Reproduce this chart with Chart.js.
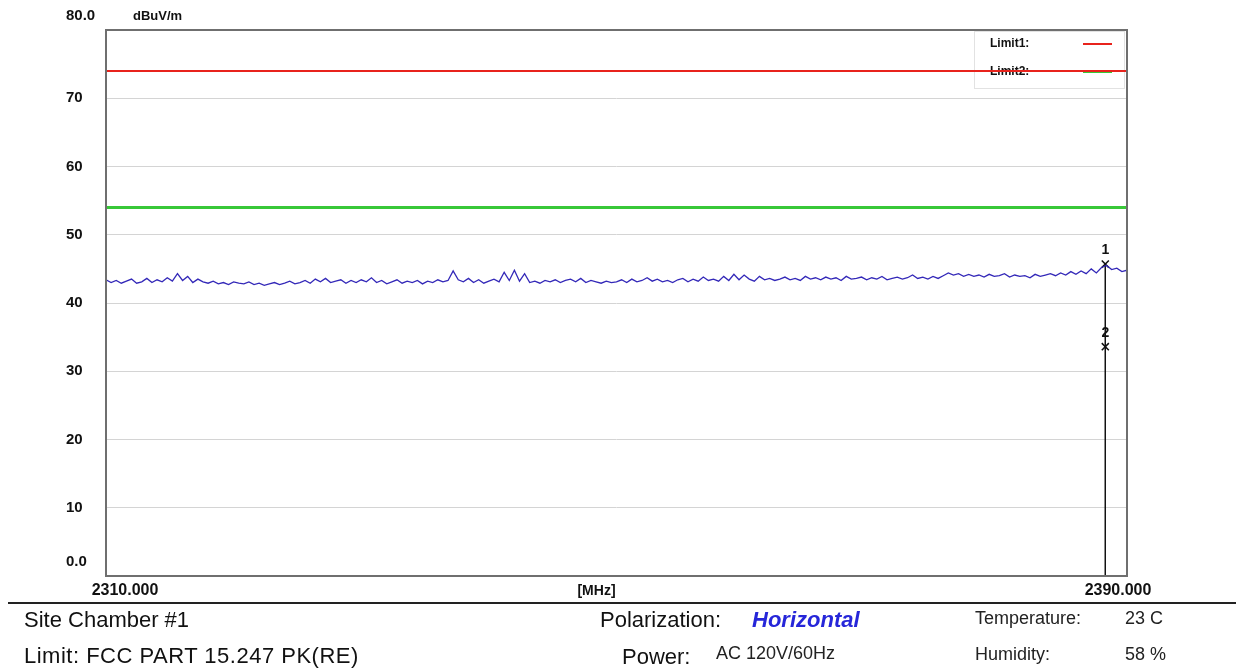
<!DOCTYPE html>
<html>
<head>
<meta charset="utf-8">
<script src="https://cdn.jsdelivr.net/npm/chart.js@4"></script>
<style>
  html, body { margin: 0; padding: 0; background: #fff; }
  #wrap { position: relative; width: 1236px; height: 670px; overflow: hidden; }
  #chart { position: absolute; left: 0; top: 0; }
  .t { position: absolute; font-family: "Liberation Sans", Arial, sans-serif; color: #111; white-space: nowrap; line-height: 1; }
  .big { font-size: 22px; }
  .small { font-size: 18px; color: #222; }
  #rule { position: absolute; left: 8px; right: 0; top: 602px; height: 2px; background: #222; }
</style>
</head>
<body>
<div id="wrap">
  <canvas id="chart" width="1236" height="670"></canvas>
  <div id="rule"></div>
  <div class="t big" style="left:24px; top:609px;">Site Chamber #1</div>
  <div class="t big" style="left:24px; top:645px; letter-spacing:0.5px;">Limit: FCC PART 15.247 PK(RE)</div>
  <div class="t big" style="left:600px; top:609px;">Polarization:</div>
  <div class="t big" style="left:752px; top:609px; color:#2626d9; font-weight:bold; font-style:italic;">Horizontal</div>
  <div class="t big" style="left:622px; top:646px;">Power:</div>
  <div class="t small" style="left:716px; top:644px;">AC 120V/60Hz</div>
  <div class="t small" style="left:975px; top:609px;">Temperature:</div>
  <div class="t small" style="left:1125px; top:609px;">23 C</div>
  <div class="t small" style="left:975px; top:645px;">Humidity:</div>
  <div class="t small" style="left:1125px; top:645px;">58 %</div>
</div>
<script>
// Sweep: 2310 - 2390 MHz, one reading every 0.4 MHz (201 points).
const FREQ_START = 2310;
const FREQ_STOP = 2390;
const FREQ_STEP = 0.4;

// Peak trace, dBuV/m.
const TRACE = [
    43.4, 43.0, 43.3, 42.9, 43.2, 43.5, 42.9, 43.1, 43.6, 43.0,
    43.4, 43.1, 43.7, 43.2, 44.3, 43.3, 43.9, 43.0, 43.5, 43.1,
    42.9, 43.2, 42.8, 43.0, 42.7, 43.1, 42.9, 42.8, 43.1, 42.7,
    42.9, 42.6, 42.8, 43.0, 42.7, 42.9, 43.2, 42.8, 43.0, 43.3,
    42.9, 43.5, 43.1, 43.6, 43.0, 43.2, 43.4, 42.9, 43.3, 43.0,
    43.4, 43.1, 43.7, 43.0, 43.3, 42.8, 43.1, 43.4, 42.9, 43.2,
    43.0, 43.3, 42.8, 43.2, 43.0, 43.4, 43.1, 43.3, 44.7, 43.4,
    43.1, 43.6, 43.0, 43.4, 42.9, 43.2, 43.5, 43.1, 44.5, 43.3,
    44.8, 43.2, 44.3, 43.0, 43.2, 42.9, 43.3, 43.1, 43.4, 43.0,
    43.3, 43.5, 43.1, 43.6, 43.0, 43.3, 43.1, 42.9, 43.2, 43.0,
    43.1, 43.4, 43.0, 43.5, 43.1, 43.3, 43.7, 43.2, 43.5, 43.1,
    43.3, 43.0, 43.4, 43.6, 43.1, 43.5, 43.2, 43.8, 43.3, 43.5,
    43.2, 43.9, 43.3, 44.2, 43.4, 44.1, 43.5, 43.2, 43.9, 43.4,
    43.6, 43.3, 43.5, 43.8, 43.4, 43.6, 43.3, 43.9, 43.5, 43.7,
    43.4, 43.8, 43.5, 43.7, 43.3, 43.9, 43.5, 43.6, 43.8, 43.4,
    43.7, 43.5, 43.9, 43.4, 43.6, 43.8, 43.5, 43.7, 44.1, 43.6,
    43.8, 43.5, 43.9, 43.6, 44.0, 44.4, 44.1, 44.3, 43.9, 44.2,
    43.9, 44.1, 43.8, 44.2, 43.9, 44.0, 44.3, 43.8, 44.1, 43.9,
    44.0, 43.7, 44.2, 43.9, 44.1, 44.3, 44.0, 44.4, 44.1, 44.6,
    44.2, 44.7, 44.3, 45.0, 44.4, 45.2, 45.5, 44.9, 45.1, 44.6,
    44.8,
];

const LIMIT1 = 74;   // red
const LIMIT2 = 54;   // green

// Marker readings (freq MHz, level dBuV/m)
const MARKER_LABELS = ["1", "2"];
const MARKER_FREQ = [2388.3, 2388.3];
const MARKER_LEVEL = [45.7, 33.6];

const Y_MIN = 0;
const Y_MAX = 80;
const Y_STEP = 10;

const FONT = '"Liberation Sans", Arial, sans-serif';

const tracePoints = TRACE.map((v, i) => ({ x: FREQ_START + i * FREQ_STEP, y: v }));
const markerPoints = MARKER_FREQ.map((f, i) => ({ x: f, y: MARKER_LEVEL[i] }));

// Frame, legend box, axis captions and marker numbers.
const decor = {
    id: "decor",
    beforeDatasetsDraw(chart) {
        const { ctx, chartArea: a } = chart;
        // legend box (datasets are drawn on top of it, like the original)
        ctx.save();
        ctx.fillStyle = "#fff";
        ctx.fillRect(a.right - 152, a.top + 2, 150, 56);
        ctx.strokeStyle = "#e2e2e2";
        ctx.lineWidth = 1;
        ctx.strokeRect(a.right - 152.5, a.top + 1.5, 150, 57);
        ctx.font = "bold 12px " + FONT;
        ctx.fillStyle = "#111";
        ctx.textBaseline = "middle";
        ctx.fillText("Limit1:", a.right - 137, a.top + 14);
        ctx.fillText("Limit2:", a.right - 137, a.top + 42);
        ctx.lineWidth = 2;
        ctx.strokeStyle = "#e8231c";
        ctx.beginPath();
        ctx.moveTo(a.right - 44, a.top + 14);
        ctx.lineTo(a.right - 15, a.top + 14);
        ctx.stroke();
        ctx.strokeStyle = "#38c838";
        ctx.beginPath();
        ctx.moveTo(a.right - 44, a.top + 42);
        ctx.lineTo(a.right - 15, a.top + 42);
        ctx.stroke();
        ctx.restore();
    },
    afterDraw(chart) {
        const { ctx, chartArea: a, scales } = chart;
        const y = scales.y, x = scales.x;
        ctx.save();
        // plot frame
        ctx.strokeStyle = "#6f6f6f";
        ctx.lineWidth = 2;
        ctx.strokeRect(a.left, a.top, a.right - a.left, a.bottom - a.top);

        ctx.fillStyle = "#111";
        ctx.textBaseline = "middle";
        ctx.font = "bold 15px " + FONT;
        ctx.textAlign = "left";
        ctx.fillText(Y_MAX.toFixed(1), 66, y.getPixelForValue(Y_MAX) - 14);
        ctx.fillText(Y_MIN.toFixed(1), 66, y.getPixelForValue(Y_MIN) - 14);
        ctx.font = "bold 13px " + FONT;
        ctx.fillText("dBuV/m", 133, y.getPixelForValue(Y_MAX) - 14);

        ctx.font = "bold 16px " + FONT;
        ctx.textAlign = "center";
        ctx.fillText(FREQ_START.toFixed(3), x.getPixelForValue(FREQ_START) + 19, a.bottom + 15);
        ctx.fillText(FREQ_STOP.toFixed(3), x.getPixelForValue(FREQ_STOP) - 9, a.bottom + 15);
        ctx.font = "bold 14px " + FONT;
        ctx.fillText("[MHz]", (a.left + a.right) / 2 - 20, a.bottom + 15);

        // marker numbers above the crosses
        const meta = chart.getDatasetMeta(3);
        ctx.font = "bold 14px " + FONT;
        meta.data.forEach((pt, i) => {
            ctx.fillText(MARKER_LABELS[i], pt.x, pt.y - 14);
        });
        ctx.restore();
    },
};

new Chart(document.getElementById("chart"), {
    type: "scatter",
    data: {
        datasets: [
            {
                label: "Limit1",
                data: [{ x: FREQ_START, y: LIMIT1 }, { x: FREQ_STOP, y: LIMIT1 }],
                showLine: true, borderColor: "#e8231c", borderWidth: 2, pointRadius: 0,
            },
            {
                label: "Limit2",
                data: [{ x: FREQ_START, y: LIMIT2 }, { x: FREQ_STOP, y: LIMIT2 }],
                showLine: true, borderColor: "#38c838", borderWidth: 3, pointRadius: 0,
            },
            {
                label: "Trace",
                data: tracePoints,
                showLine: true, borderColor: "#3328b8", borderWidth: 1.3, pointRadius: 0,
                tension: 0,
            },
            {
                label: "Markers",
                data: markerPoints,
                showLine: false, pointStyle: "crossRot", pointRadius: 5,
                borderColor: "#111", borderWidth: 1.5,
            },
            {
                label: "Marker line",
                data: [{ x: MARKER_FREQ[0], y: MARKER_LEVEL[0] }, { x: MARKER_FREQ[0], y: Y_MIN }],
                showLine: true, borderColor: "#111", borderWidth: 1, pointRadius: 0,
            },
        ],
    },
    options: {
        responsive: false,
        animation: false,
        layout: { padding: { left: 66, top: 30, right: 109, bottom: 94 } },
        plugins: { legend: { display: false }, tooltip: { enabled: false } },
        scales: {
            x: {
                type: "linear",
                min: FREQ_START,
                max: FREQ_STOP,
                grid: { display: false },
                border: { display: false },
                ticks: { display: false },
                afterFit(scale) { scale.height = 0; },
            },
            y: {
                min: Y_MIN,
                max: Y_MAX,
                grid: { color: "#d4d4d4", lineWidth: 1, drawTicks: false },
                border: { display: false },
                ticks: {
                    stepSize: Y_STEP,
                    crossAlign: "far",
                    color: "#111",
                    font: { family: FONT, size: 15, weight: "bold" },
                    callback: (v) => (v === Y_MIN || v === Y_MAX ? "" : String(v)),
                },
                afterFit(scale) { scale.width = 40; },
            },
        },
    },
    plugins: [decor],
});
</script>
</body>
</html>
